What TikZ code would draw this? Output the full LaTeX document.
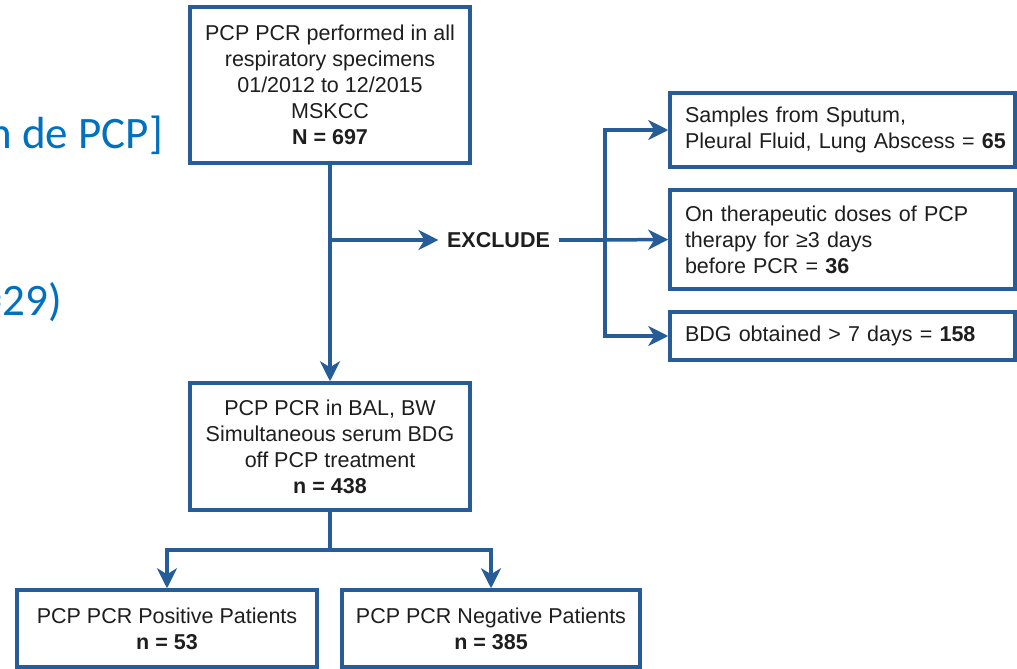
\documentclass[tikz,border=0pt]{standalone}
\usepackage{fontspec}
\setmainfont{Liberation Sans}
\newfontfamily\slidefont{Carlito}
\usetikzlibrary{arrows.meta}
\definecolor{boxblue}{RGB}{38,92,152}
\definecolor{slideblue}{RGB}{0,112,192}
\definecolor{txt}{RGB}{30,30,30}
\newcommand{\lp}{\hspace*{7.5pt}}
\begin{document}
\begin{tikzpicture}[x=1pt,y=-1pt,
  box/.style={draw=boxblue, line width=3.5pt, fill=white, text=txt,
    font=\fontsize{21.5}{26}\selectfont, inner sep=0pt, align=center},
  lbox/.style={box, align=left, text width=330pt, inner xsep=7.5pt, minimum width=345pt},
  conn/.style={draw=boxblue, line width=3.5pt},
  arr/.style={conn, -{Stealth[length=20pt,width=20pt,inset=6pt]}},
  slidetext/.style={text=slideblue, font=\slidefont\fontsize{45}{54}\selectfont, inner sep=0pt, anchor=base east}
]
\useasboundingbox (0,0) rectangle (1017,669);
\fill[white] (0,0) rectangle (1017,669);

% fragments of slide text behind the figure (cut at the left edge, as in the reference)
\node[slidetext] (frag1) at (163,148) {n de PCP]};
\node[slidetext] (frag2) at (62,315) {=29)};

% main boxes
\node[box, minimum width=280pt, minimum height=156pt] (top) at (330,85)
  {PCP PCR performed in all\\respiratory specimens\\01/2012 to 12/2015\\MSKCC\\\textbf{N = 697}};
\node[box, minimum width=280pt, minimum height=127pt] (bal) at (330,446.5)
  {PCP PCR in BAL, BW\\Simultaneous serum BDG\\off PCP treatment\hspace*{21pt}\\\textbf{n = 438}};

% exclusion
\node[text=txt, font=\bfseries\fontsize{21.5}{26}\selectfont, inner xsep=8.5pt, inner ysep=0pt] (excl) at (498.5,240) {EXCLUDE};
\node[lbox, minimum height=74pt] (s1) at (842.5,130)
  {\lp Samples from Sputum,\\\lp Pleural Fluid, Lung Abscess = \textbf{65}};
\node[lbox, minimum height=99pt] (s2) at (842.5,239.5)
  {\lp On therapeutic doses of PCP\\\lp therapy for ≥3 days\\\lp before PCR = \textbf{36}};
\node[lbox, minimum height=48pt] (s3) at (842.5,336)
  {\lp BDG obtained > 7 days = \textbf{158}};

% outcome boxes
\node[box, minimum width=300pt, minimum height=77pt] (pos) at (167,628.5)
  {PCP PCR Positive Patients\\\textbf{n = 53}};
\node[box, minimum width=298pt, minimum height=77pt] (neg) at (491,628.5)
  {PCP PCR Negative Patients\\\textbf{n = 385}};

% connectors
\draw[arr] (top.south) -- (bal.north);
\draw[arr] (top.south |- excl.west) -- (excl.west);
\coordinate (br) at (605,240);
\draw[conn] (excl.east) -- (br);
\draw[arr] (br) -- (s2.west);
\draw[arr] (br) |- (s1.west);
\draw[arr] (br) |- (s3.west);
\coordinate (split) at (330,550);
\draw[conn] (bal.south) -- (split);
\draw[arr] (split) -| (pos.north);
\draw[arr] (split) -| (neg.north);
\end{tikzpicture}
\end{document}
